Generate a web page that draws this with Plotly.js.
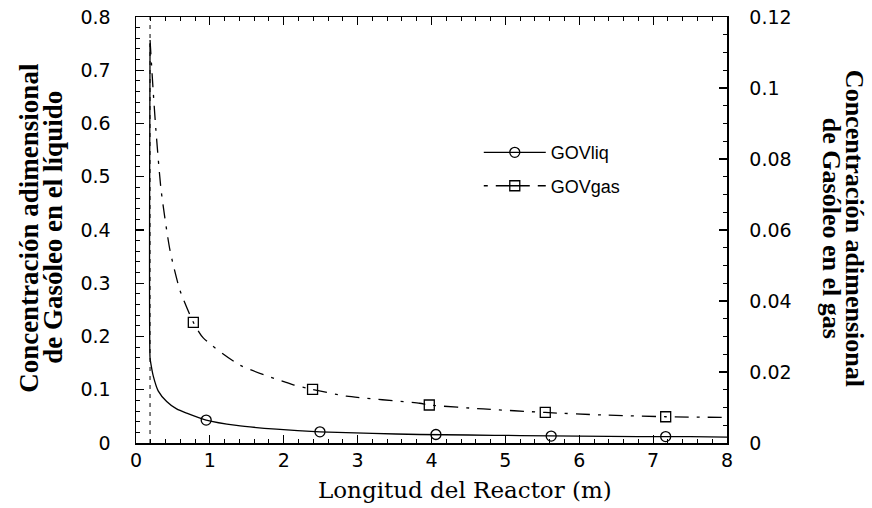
<!DOCTYPE html>
<html>
<head>
<meta charset="utf-8">
<script src="https://cdn.plot.ly/plotly-3.0.1.min.js"></script>
<style>html,body{margin:0;padding:0;background:#fff;}#chart{width:872px;height:508px;}</style>
</head>
<body>
<div id="chart"></div>
<script>
// Liquid concentration (left axis)
const liqX = [0.19, 0.19, 0.2, 0.235, 0.3, 0.415, 0.55, 0.686, 0.95, 1.36, 1.9, 2.49, 3.2, 3.84, 4.5, 5.2, 6.0, 6.8, 7.5, 8.0];
const liqY = [0.75, 0.16, 0.15, 0.125, 0.098, 0.078, 0.064, 0.056, 0.043, 0.033, 0.026, 0.021, 0.018, 0.016, 0.015, 0.014, 0.013, 0.012, 0.012, 0.011];
const liqMarkX = [0.95, 2.49, 4.06, 5.62, 7.17];
const liqMarkY = [0.043, 0.021, 0.016, 0.013, 0.012];
// Gas concentration (right axis)
const gasX = [0.19, 0.23, 0.27, 0.34, 0.46, 0.595, 0.776, 0.91, 1.41, 2.13, 2.39, 2.85, 3.84, 3.97, 4.7, 5.54, 6.3, 7.17, 7.97];
const gasY = [0.1135, 0.1, 0.088, 0.0712, 0.0543, 0.043, 0.034, 0.0296, 0.0219, 0.0164, 0.0151, 0.0132, 0.0112, 0.0107, 0.0096, 0.0086, 0.0079, 0.0074, 0.0072];
const gasMarkX = [0.776, 2.39, 3.97, 5.54, 7.17];
const gasMarkY = [0.034, 0.0151, 0.0107, 0.0086, 0.0074];
// Vertical guide line at reactor inlet
const guideX = [0.19, 0.19];
const guideY = [0, 0.8];

const names = ['GOVliq', 'GOVgas'];
const xTitle = 'Longitud del Reactor (m)';
const yTitleLines = ['Concentración adimensional', 'de Gasóleo en el líquido'];
const y2TitleLines = ['Concentración adimensional', 'de Gasóleo en el gas'];

const traces = [
  {x: guideX, y: guideY, mode: 'lines', line: {color: '#000', width: 1, dash: '4px,5px'}, showlegend: false, hoverinfo: 'skip'},
  {x: liqX, y: liqY, mode: 'lines', line: {color: '#000', width: 1.3, shape: 'spline', smoothing: 0.6}, showlegend: false},
  {x: liqMarkX, y: liqMarkY, mode: 'markers', marker: {symbol: 'circle-open', size: 10, color: '#000', line: {width: 1.3}}, showlegend: false},
  {x: gasX, y: gasY, yaxis: 'y2', mode: 'lines', line: {color: '#000', width: 1.3, dash: '14px,8px,3px,8px', shape: 'spline', smoothing: 0.6}, showlegend: false},
  {x: gasMarkX, y: gasMarkY, yaxis: 'y2', mode: 'markers', marker: {symbol: 'square-open', size: 10, color: '#000', line: {width: 1.3}}, showlegend: false},
  {x: [null], y: [null], name: names[0], legendgroup: 'a', mode: 'lines+markers', line: {color: '#000', width: 1.3}, marker: {symbol: 'circle-open', size: 10, color: '#000', line: {width: 1.3}}},
  {x: [null], y: [null], name: names[1], legendgroup: 'b', yaxis: 'y2', mode: 'lines+markers', line: {color: '#000', width: 1.3, dash: '4px,8px,30px,0px'}, marker: {symbol: 'square-open', size: 10, color: '#000', line: {width: 1.3}}}
];

const tickFont = {family: 'DejaVu Sans, Arial, sans-serif', size: 19, color: '#000'};
const xTitleFont = {family: 'DejaVu Serif, serif', size: 23, color: '#000'};
const yTitleFont = {family: 'Liberation Serif, Times New Roman, serif', size: 27, color: '#000', weight: 'bold'};
const y2TitleFont = {family: 'Liberation Serif, Times New Roman, serif', size: 26, color: '#000', weight: 'bold'};

const layout = {
  width: 872, height: 508,
  margin: {l: 136, r: 145, t: 17, b: 65},
  paper_bgcolor: '#fff', plot_bgcolor: '#fff',
  showlegend: true,
  legend: {x: 0.58, y: 0.725, xanchor: 'left', yanchor: 'top', itemwidth: 62, tracegroupgap: 7,
           font: {family: 'Liberation Sans, Arial, sans-serif', size: 18, color: '#000'}, bgcolor: 'rgba(0,0,0,0)'},
  xaxis: {
    range: [0, 8], dtick: 1, tick0: 0, showgrid: false, zeroline: false,
    showline: true, linecolor: '#000', linewidth: 1.5, mirror: 'ticks',
    ticks: 'inside', ticklen: 8, tickcolor: '#000', tickwidth: 1.2,
    minor: {dtick: 0.2, ticks: 'inside', ticklen: 4, tickcolor: '#000', tickwidth: 1},
    tickfont: tickFont
  },
  yaxis: {
    range: [0, 0.8], dtick: 0.1, tick0: 0, showgrid: false, zeroline: false,
    showline: true, linecolor: '#000', linewidth: 1.5,
    ticks: 'inside', ticklen: 8, tickcolor: '#000', tickwidth: 1.2,
    minor: {dtick: 0.02, ticks: 'inside', ticklen: 4, tickcolor: '#000', tickwidth: 1},
    tickfont: tickFont, ticklabelstandoff: 20
  },
  yaxis2: {
    overlaying: 'y', side: 'right',
    range: [0, 0.12], dtick: 0.02, tick0: 0, showgrid: false, zeroline: false,
    showline: true, linecolor: '#000', linewidth: 1.5,
    ticks: 'inside', ticklen: 8, tickcolor: '#000', tickwidth: 1.2,
    minor: {dtick: 0.005, ticks: 'inside', ticklen: 4, tickcolor: '#000', tickwidth: 1},
    tickfont: tickFont, ticklabelstandoff: 17
  },
  annotations: [
    {text: xTitle, xref: 'paper', yref: 'paper', x: (465 - 136) / 591, y: (443 - 490) / 426, xanchor: 'center', yanchor: 'middle', showarrow: false, font: xTitleFont},
    {text: yTitleLines[0], xref: 'paper', yref: 'paper', x: (29 - 136) / 591, y: 0.505, xanchor: 'center', yanchor: 'middle', textangle: -90, showarrow: false, font: yTitleFont},
    {text: yTitleLines[1], xref: 'paper', yref: 'paper', x: (53 - 136) / 591, y: 0.505, xanchor: 'center', yanchor: 'middle', textangle: -90, showarrow: false, font: yTitleFont},
    {text: y2TitleLines[0], xref: 'paper', yref: 'paper', x: (854 - 136) / 591, y: 0.505, xanchor: 'center', yanchor: 'middle', textangle: 90, showarrow: false, font: y2TitleFont},
    {text: y2TitleLines[1], xref: 'paper', yref: 'paper', x: (831 - 136) / 591, y: 0.505, xanchor: 'center', yanchor: 'middle', textangle: 90, showarrow: false, font: y2TitleFont}
  ]
};

Plotly.newPlot('chart', traces, layout, {displayModeBar: false, staticPlot: true});
</script>
</body>
</html>
